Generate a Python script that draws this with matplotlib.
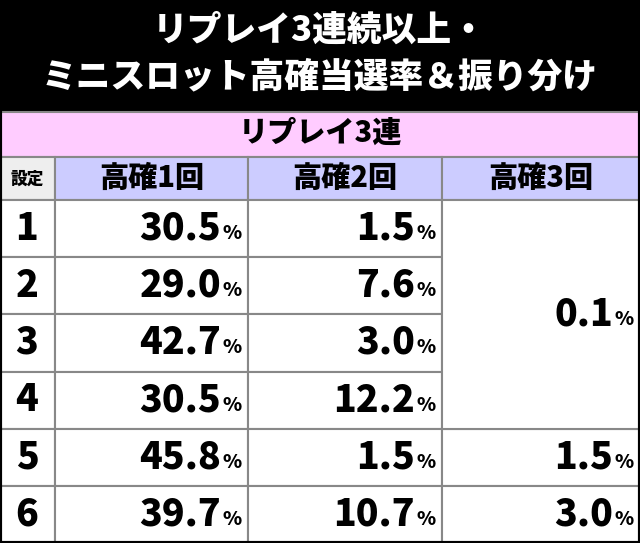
import matplotlib
matplotlib.use("Agg")
import matplotlib.pyplot as plt
from matplotlib.patches import Rectangle

title_lines = ["リプレイ3連続以上・", "ミニスロット高確当選率＆振り分け"]
group_label = "リプレイ3連"
col_headers = ["設定", "高確1回", "高確2回", "高確3回"]
settings = ["1", "2", "3", "4", "5", "6"]
high1 = ["30.5", "29.0", "42.7", "30.5", "45.8", "39.7"]
high2 = ["1.5", "7.6", "3.0", "12.2", "1.5", "10.7"]
high3_merged = "0.1"          # settings 1-4
high3 = ["1.5", "3.0"]        # settings 5-6

FONT = "Noto Sans CJK JP"
WT = "black"
W, H = 640, 543
fig = plt.figure(figsize=(6.4, 5.43), dpi=100)
ax = fig.add_axes([0, 0, 1, 1])
ax.set_xlim(0, W); ax.set_ylim(H, 0); ax.axis("off")

def rect(x0, y0, x1, y1, fc, ec="#888888", lw=1.5):
    ax.add_patch(Rectangle((x0, y0), x1 - x0, y1 - y0, facecolor=fc, edgecolor=ec, linewidth=lw))

rect(0, 0, W, 112, "black", ec="black")
ax.text(W/2, 30, title_lines[0], color="white", fontsize=25, fontweight=WT, ha="center", va="center", family=FONT)
ax.text(W/2, 77, title_lines[1], color="white", fontsize=25, fontweight=WT, ha="center", va="center", family=FONT)

rect(0, 112, W, 157, "#ffccff")
ax.text(W/2, 133, group_label, fontsize=21, fontweight=WT, ha="center", va="center", family=FONT)

xs = [0, 55, 248, 442, 640]
hy0, hy1 = 157, 200
for i in range(4):
    rect(xs[i], hy0, xs[i+1], hy1, "#eeeeee" if i == 0 else "#ccccff")
    ax.text((xs[i]+xs[i+1])/2, (hy0+hy1)/2, col_headers[i], fontsize=12 if i == 0 else 21,
            fontweight=WT, ha="center", va="center", family=FONT)

rh = (H - hy1) / 6
def val(xr, yc, v):
    ax.text(xr - 6, yc + 5, "%", fontsize=14, fontweight=WT, ha="right", va="center", family=FONT)
    ax.text(xr - 27, yc, v, fontsize=27, fontweight=WT, ha="right", va="center", family=FONT)

for r in range(6):
    y0 = hy1 + r*rh; y1 = y0 + rh; yc = (y0+y1)/2
    for i in range(3):
        rect(xs[i], y0, xs[i+1], y1, "white")
    ax.text(27, yc, settings[r], fontsize=27, fontweight=WT, ha="center", va="center", family=FONT)
    val(xs[2], yc, high1[r])
    val(xs[3], yc, high2[r])
    if r >= 4:
        rect(xs[3], y0, xs[4], y1, "white")
        val(xs[4], yc, high3[r-4])
rect(xs[3], hy1, xs[4], hy1 + 4*rh, "white")
val(xs[4], hy1 + 2*rh, high3_merged)

ax.add_patch(Rectangle((0, 0), W, H, fill=False, edgecolor="black", linewidth=3))
fig.savefig("out.png", dpi=100)
